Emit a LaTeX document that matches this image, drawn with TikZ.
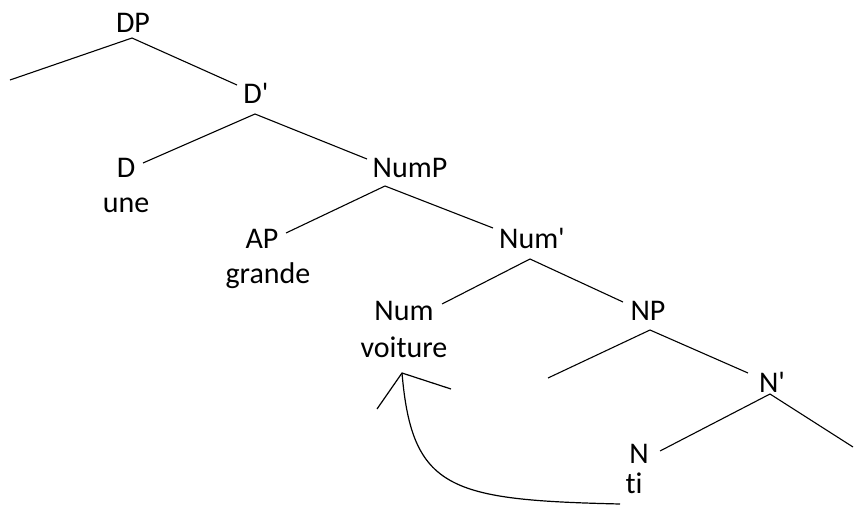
\documentclass[tikz,border=0pt]{standalone}
\usepackage{fontspec}
\setmainfont{Carlito}[Ligatures=NoCommon]
\begin{document}
\begin{tikzpicture}[x=1pt,y=-1pt,
  lbl/.style={anchor=base,inner sep=0pt,font=\fontsize{30}{30}\selectfont},
  branch/.style={line width=1.1pt,black},
  movement/.style={line width=1.2pt,black}]
\useasboundingbox (0,0) rectangle (854,506);

% category and word labels
\node[lbl] (DP)      at (133,32)  {DP};
\node[lbl] (Dbar)    at (256,103) {D\textquotesingle};
\node[lbl] (D)       at (126,177) {D};
\node[lbl] (une)     at (126,212) {une};
\node[lbl] (NumP)    at (410,177) {NumP};
\node[lbl] (AP)      at (262,248) {AP};
\node[lbl] (grande)  at (268,283) {grande};
\node[lbl] (Numbar)  at (532,248) {Num\textquotesingle};
\node[lbl] (Num)     at (404,320) {Num};
\node[lbl] (voiture) at (404,357) {voiture};
\node[lbl] (NP)      at (648,320) {NP};
\node[lbl] (Nbar)    at (772,392) {N\textquotesingle};
\node[lbl] (N)       at (639,463) {N};
\node[lbl] (ti)      at (634,493) {ti};

% branching points and branch ends
\coordinate (DP-top)     at (132,38);
\coordinate (DP-spec)    at (10,80);
\coordinate (DP-head)    at (237,85);
\coordinate (Dbar-top)   at (255,114);
\coordinate (Dbar-l)     at (143,163);
\coordinate (Dbar-r)     at (367,159);
\coordinate (NumP-top)   at (385,186);
\coordinate (NumP-l)     at (286,233);
\coordinate (NumP-r)     at (493,228);
\coordinate (Numbar-top) at (530,259);
\coordinate (Numbar-l)   at (442,304);
\coordinate (Numbar-r)   at (623,302);
\coordinate (NP-top)     at (650,330);
\coordinate (NP-spec)    at (548,378);
\coordinate (NP-head)    at (748,373);
\coordinate (Nbar-top)   at (770,394);
\coordinate (Nbar-l)     at (660,451);
\coordinate (Nbar-r)     at (853,447);

% tree branches
\draw[branch] (DP-spec) -- (DP-top) -- (DP-head);
\draw[branch] (Dbar-l) -- (Dbar-top) -- (Dbar-r);
\draw[branch] (NumP-l) -- (NumP-top) -- (NumP-r);
\draw[branch] (Numbar-l) -- (Numbar-top) -- (Numbar-r);
\draw[branch] (NP-spec) -- (NP-top) -- (NP-head);
\draw[branch] (Nbar-l) -- (Nbar-top) -- (Nbar-r);

% head movement arrow from the trace up to Num
\coordinate (trace)   at (620,504);
\coordinate (landing) at (402,373);
\coordinate (barb-l)  at (377,409);
\coordinate (barb-r)  at (451,389);
\draw[movement] (trace) .. controls (450,500) and (412,490) .. (landing);
\draw[movement] (barb-l) -- (landing) -- (barb-r);
\end{tikzpicture}
\end{document}
